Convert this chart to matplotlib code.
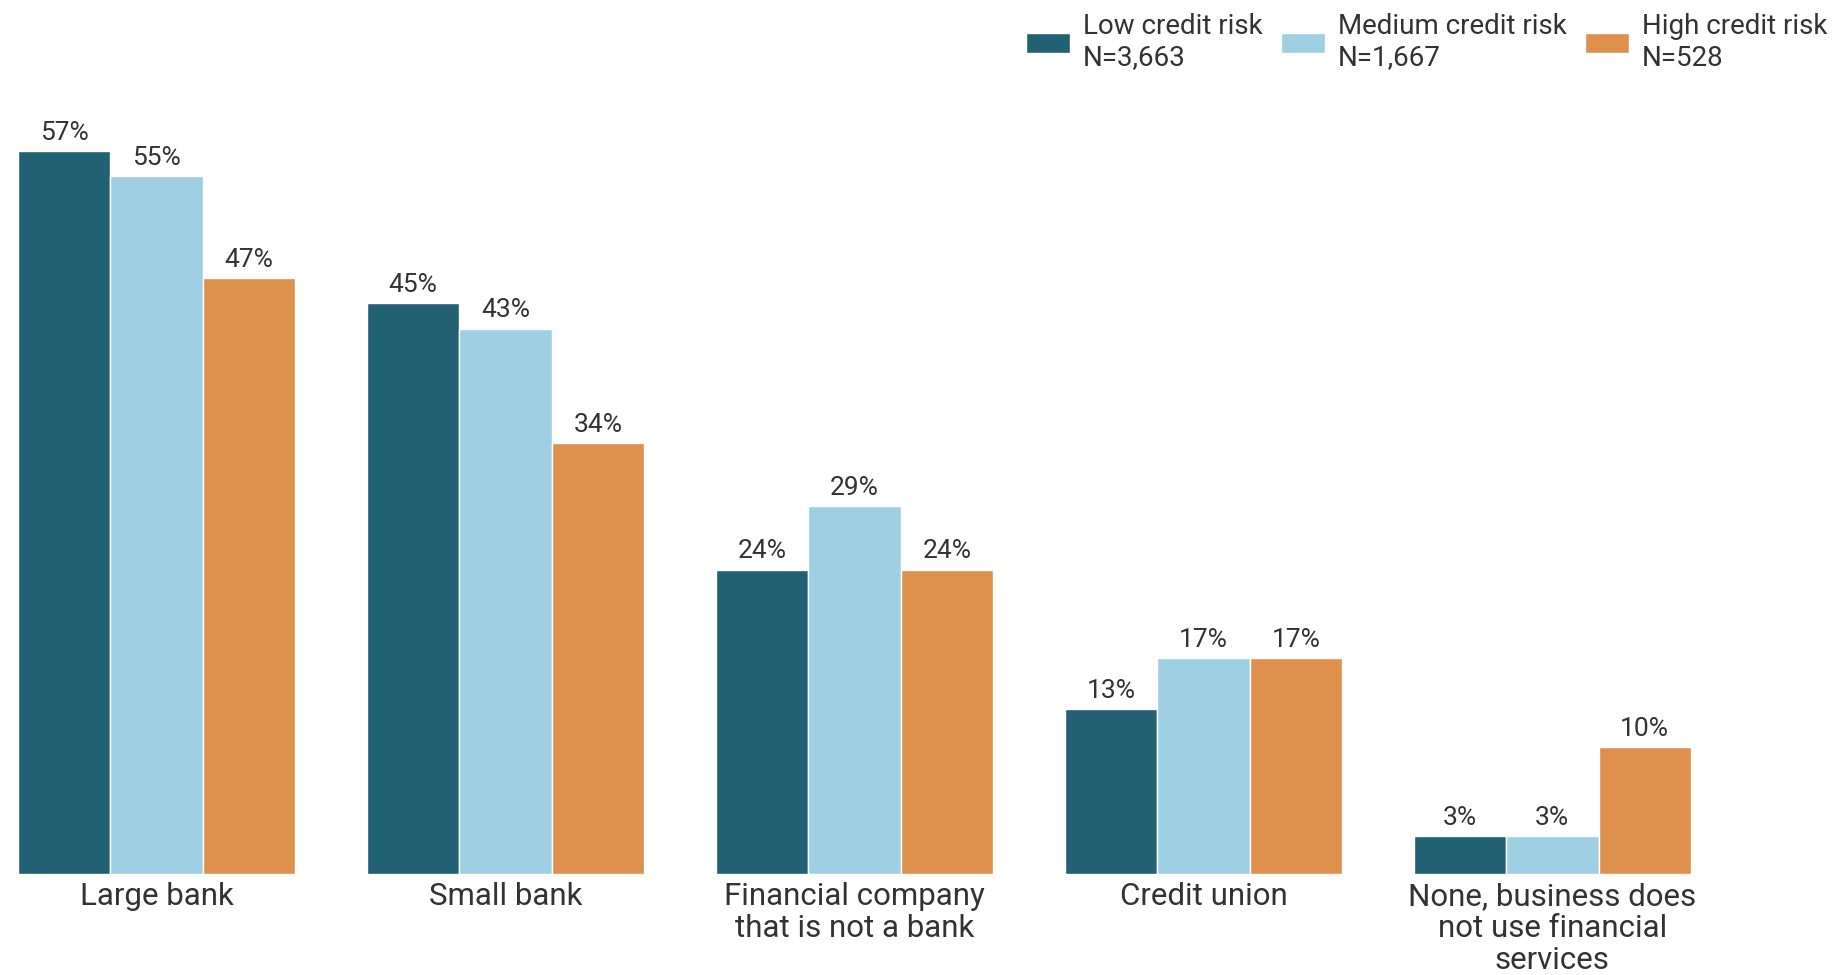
import matplotlib
matplotlib.use("Agg")
import matplotlib.pyplot as plt
import numpy as np
from matplotlib.patches import Patch

plt.rcParams['font.family'] = ['Roboto', 'DejaVu Sans']

categories = ["Large bank", "Small bank", "Financial company\nthat is not a bank",
              "Credit union", "None, business does\nnot use financial\nservices"]
series_names = ["Low credit risk\nN=3,663", "Medium credit risk\nN=1,667", "High credit risk\nN=528"]
low_risk = [57, 45, 24, 13, 3]
medium_risk = [55, 43, 29, 17, 3]
high_risk = [47, 34, 24, 17, 10]
colors = ["#226074", "#9ecfe2", "#de904d"]

text_color = "#333333"

fig = plt.figure(figsize=(18.32, 9.75), dpi=100)
ax = fig.add_axes([18 / 1832, 101 / 975, 1673 / 1832, 761 / 975])

x = np.arange(len(categories))
w = 0.265
for i, (vals, col) in enumerate(zip([low_risk, medium_risk, high_risk], colors)):
    pos = x + (i - 1) * w
    bars = ax.bar(pos, vals, width=w, color=col, edgecolor="white", linewidth=1.0)
    for b, v in zip(bars, vals):
        ax.annotate(f"{v}%", (b.get_x() + b.get_width() / 2, v),
                    xytext=(0, 4.5), textcoords="offset points",
                    ha="center", va="bottom", fontsize=19, color=text_color)

ax.set_xlim(-1.5 * w, len(categories) - 1 + 1.5 * w)
ax.set_ylim(0, 60)
ax.set_xticks(x)
ax.set_xticklabels(categories, fontsize=22.5, color=text_color, linespacing=1.12)
ax.tick_params(axis="x", length=0, pad=6)
ax.set_yticks([])
for s in ax.spines.values():
    s.set_visible(False)

handles = [Patch(facecolor=c, edgecolor="white") for c in colors]
fig.legend(handles, series_names, loc="upper right", bbox_to_anchor=(1.011, 1.012),
           ncol=3, frameon=False, fontsize=20, labelcolor=text_color,
           handlelength=1.6, handleheight=0.75, handletextpad=0.45,
           columnspacing=0.66, labelspacing=0.3)

fig.savefig("out.png", dpi=100)
